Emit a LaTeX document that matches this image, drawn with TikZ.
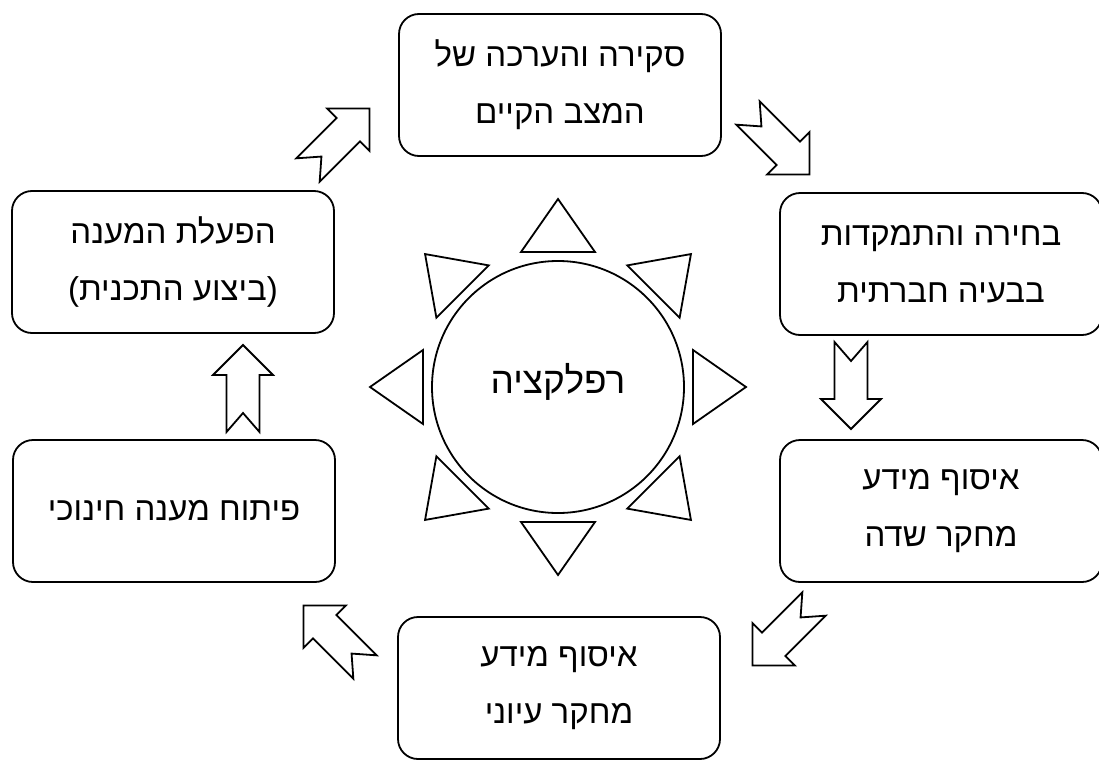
\documentclass[tikz,border=0pt]{standalone}
\usepackage{fontspec}
\setmainfont{Liberation Sans}
\newfontfamily\hebfont[Script=Hebrew]{Liberation Sans}
\TeXXeTstate=1
\newcommand\rtl[1]{\beginR #1\endR}

\tikzset{
  stagebox/.style={draw, rounded corners=20pt, minimum width=322pt,
    minimum height=142pt, align=center, inner sep=0pt,
    font=\hebfont\fontsize{33}{57}\selectfont},
  notcharrow/.pic={
    \draw (0,-16.5) -- (57,-16.5) -- (57,-30) -- (87,0) -- (57,30)
      -- (57,16.5) -- (0,16.5) -- (19,0) -- cycle;
  }
}

\begin{document}
\begin{tikzpicture}[x=1pt, y=-1pt, line width=1.8pt]
  \useasboundingbox (0,0) rectangle (1099,760);

  % the six stages
  \node[stagebox] (survey) at (560,85)
    {\rtl{סקירה והערכה של}\\\rtl{המצב הקיים}};
  \node[stagebox] (choice) at (941,264)
    {\rtl{בחירה והתמקדות}\\\rtl{בבעיה חברתית}};
  \node[stagebox] (field) at (941,511)
    {\rtl{איסוף מידע}\\\rtl{מחקר שדה}};
  \node[stagebox] (theory) at (559,688)
    {\rtl{איסוף מידע}\\\rtl{מחקר עיוני}};
  \node[stagebox] (develop) at (174,511)
    {\rtl{פיתוח מענה חינוכי}};
  \node[stagebox] (operate) at (173,262)
    {\rtl{הפעלת המענה}\\\rtl{(ביצוע התכנית)}};

  % reflection in the middle
  \node[draw, circle, minimum size=252pt, inner sep=0pt,
    font=\hebfont\fontsize{37}{44}\selectfont] (refl) at (558,387)
    {\raisebox{17pt}{\rtl{רפלקציה}}};
  \foreach \a in {0,45,...,315}
    \draw[shift={(refl.center)}, rotate=\a]
      (135,-37) -- (188,0) -- (135,37) -- cycle;

  % block arrows between the stages
  \coordinate (a1) at (308,170);
  \coordinate (a2) at (748,113);
  \coordinate (a3) at (851,342);
  \coordinate (a4) at (814,604);
  \coordinate (a5) at (365,667);
  \coordinate (a6) at (243,432);
  \pic[rotate=45] at (a1) {notcharrow};
  \pic[rotate=-45] at (a2) {notcharrow};
  \pic[rotate=-90] at (a3) {notcharrow};
  \pic[rotate=-135] at (a4) {notcharrow};
  \pic[rotate=135] at (a5) {notcharrow};
  \pic[rotate=90] at (a6) {notcharrow};
\end{tikzpicture}
\end{document}
